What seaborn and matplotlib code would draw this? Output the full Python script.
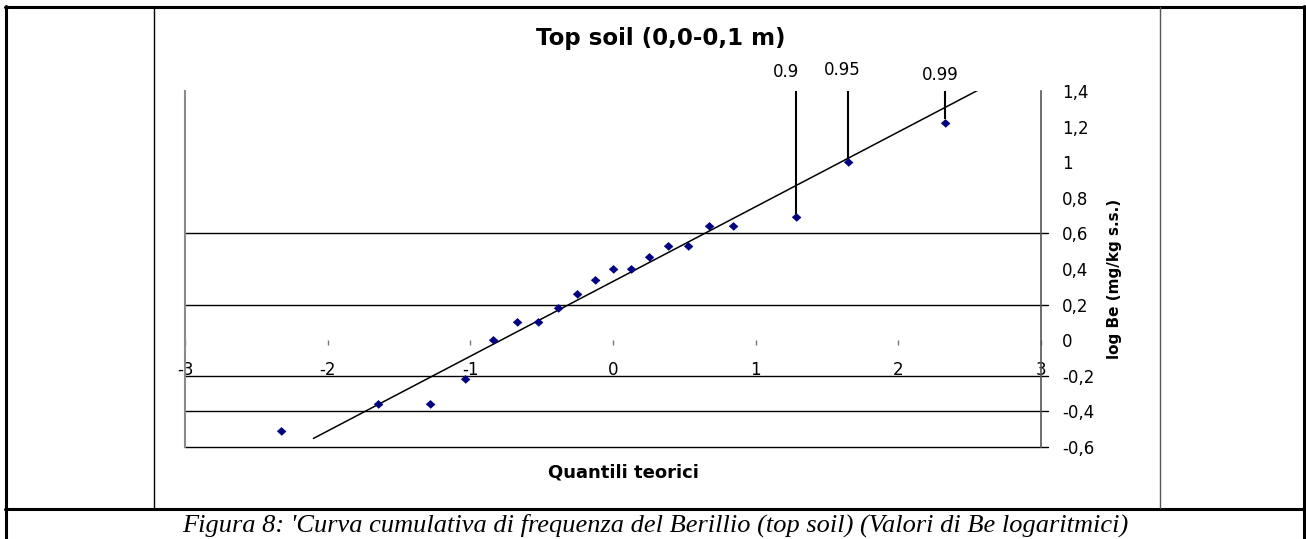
import numpy as np
import pandas as pd
import matplotlib
matplotlib.use("Agg")
import matplotlib.pyplot as plt
from matplotlib.lines import Line2D
import seaborn as sns

# ---------------- data ----------------
theor_quantiles = [-2.326, -1.645, -1.282, -1.036, -0.842, -0.674, -0.524, -0.385, -0.253, -0.126,
                   0.0, 0.126, 0.253, 0.385, 0.524, 0.674, 0.842, 1.282, 1.645, 2.326]
log_be = [-0.51, -0.36, -0.36, -0.22, 0.00, 0.10, 0.10, 0.18, 0.26, 0.34,
          0.40, 0.40, 0.47, 0.53, 0.53, 0.64, 0.64, 0.69, 1.00, 1.22]

trend_x = [-2.10, 2.57]
trend_slope = 0.42
trend_intercept = 0.33

annot_labels = ["0.9", "0.95", "0.99"]
annot_index = [17, 18, 19]          # points marked by the quantile lines

x_ticks = [-3, -2, -1, 0, 1, 2, 3]
x_ticklabels = ["-3", "-2", "-1", "0", "1", "2", "3"]
y_ticks = [-0.6, -0.4, -0.2, 0.0, 0.2, 0.4, 0.6, 0.8, 1.0, 1.2, 1.4]
y_ticklabels = ["-0,6", "-0,4", "-0,2", "0", "0,2", "0,4", "0,6", "0,8", "1", "1,2", "1,4"]
grid_values = [-0.6, -0.4, -0.2, 0.2, 0.6]

title = "Top soil (0,0-0,1 m)"
xlabel = "Quantili teorici"
ylabel = "log Be (mg/kg s.s.)"
caption = "Figura 8: 'Curva cumulativa di frequenza del Berillio (top soil) (Valori di Be logaritmici)"

# ---------------- figure ----------------
sns.set_theme(style="white")
plt.rcParams["font.family"] = ["DejaVu Sans"]
plt.rcParams["text.color"] = "black"

W, H = 1306, 539
fig = plt.figure(figsize=(W / 100, H / 100), dpi=100)
fig.patch.set_facecolor("white")

def fx(px):
    return px / W

def fy(py):
    return 1 - py / H

ax_l, ax_r, ax_t, ax_b = 185, 1041, 91, 447
ax = fig.add_axes([fx(ax_l), fy(ax_b), (ax_r - ax_l) / W, (ax_b - ax_t) / H])
ax.set_facecolor("white")

df = pd.DataFrame({"q": theor_quantiles, "v": log_be})
trend_df = pd.DataFrame({"x": trend_x,
                         "y": [trend_intercept + trend_slope * t for t in trend_x]})

# gridlines (extend slightly past right axis like tick marks)
for g in grid_values:
    ax.axhline(g, xmin=0, xmax=1 + 7 / (ax_r - ax_l), color="black", lw=1.0,
               clip_on=False, zorder=1)

# trend line
sns.lineplot(data=trend_df, x="x", y="y", ax=ax, color="black", lw=1.1,
             zorder=3, legend=False)

# quantile annotation lines
for lab, idx in zip(annot_labels, annot_index):
    xq = theor_quantiles[idx]
    yq = log_be[idx]
    ax.vlines(xq, yq + 0.02, 1.4, color="black", lw=1.5, zorder=4)
offsets = [(-10, 10), (-5, 12), (-5, 7)]
for lab, idx, off in zip(annot_labels, annot_index, offsets):
    ax.annotate(lab, xy=(theor_quantiles[idx], 1.4), xytext=off,
                textcoords="offset pixels", ha="center", va="bottom",
                fontsize=12, color="black", annotation_clip=False)

# points
diamond = [(-1, 0), (0, 0.9), (1, 0), (0, -0.9)]
sns.scatterplot(data=df, x="q", y="v", ax=ax, marker=diamond, s=40,
                color="#000080", edgecolor="#000080", linewidth=0.5, zorder=5,
                legend=False)

ax.set_xlim(-3, 3)
ax.set_ylim(-0.6, 1.4)

# axes styling
ax.spines["top"].set_visible(False)
ax.spines["bottom"].set_position(("data", 0))
ax.spines["bottom"].set_visible(False)
ax.spines["left"].set_color("#8a8a8a")
ax.spines["left"].set_linewidth(1.5)
ax.spines["right"].set_color("#555555")
ax.spines["right"].set_linewidth(1.2)

ax.set_xticks(x_ticks)
ax.set_xticklabels(x_ticklabels)
ax.tick_params(axis="x", direction="out", length=3.6, width=1, color="#777777",
               pad=11.5, labelsize=12, labelcolor="black", bottom=True)

ax.yaxis.tick_right()
ax.set_yticks(y_ticks)
ax.set_yticklabels(y_ticklabels)
ax.tick_params(axis="y", length=0, pad=15, labelsize=12, labelcolor="black")

ax.set_xlabel("")
ax.set_ylabel("")
ax.grid(False)

# titles / labels
fig.text(fx(661), fy(45), title, ha="center", va="baseline",
         fontsize=16.5, fontweight="bold", color="black")
fig.text(fx(623.5), fy(478), xlabel, ha="center", va="baseline",
         fontsize=13, fontweight="bold", color="black")
fig.text(fx(1115), fy(279), ylabel, ha="center", va="center", rotation=90,
         fontsize=11, fontweight="bold", color="black")
fig.text(fx(655.5), fy(531.5), caption, ha="center", va="baseline",
         fontsize=19, style="italic", color="black",
         family=["Liberation Serif", "DejaVu Serif"])

# document table borders
def hline(y, x0, x1, lw, color="black", ls="-"):
    fig.add_artist(Line2D([fx(x0), fx(x1)], [fy(y), fy(y)], transform=fig.transFigure,
                          color=color, lw=lw, ls=ls))

def vline(x, y0, y1, lw, color="black", ls="-"):
    fig.add_artist(Line2D([fx(x), fx(x)], [fy(y0), fy(y1)], transform=fig.transFigure,
                          color=color, lw=lw, ls=ls))

hline(7, 5, 1305, 2.2)
hline(508.5, 5, 1305, 2.2)
vline(6, 6, 539, 2.2)
vline(1304, 6, 539, 2.2)
vline(153.5, 7, 508, 1.0)
vline(1159.5, 7, 508, 1.0, color="#555555")

fig.savefig("out.png", dpi=100, facecolor="white")
